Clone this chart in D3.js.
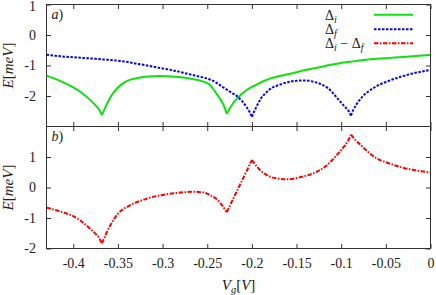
<!DOCTYPE html>
<html><head><meta charset="utf-8">
<script src="https://cdn.jsdelivr.net/npm/d3@7"></script>
<style>body{margin:0;background:#fff} svg{display:block} text{font-family:"Liberation Serif",serif}</style>
</head><body><svg id="c" width="436" height="295"></svg>
<script>
// ---- data ----
const vg = [-0.43,-0.42,-0.41,-0.40,-0.39,-0.38,-0.375,-0.371,-0.368,-0.365,
  -0.362,-0.358,-0.354,-0.35,-0.345,-0.34,-0.333,-0.325,-0.315,-0.305,
  -0.295,-0.285,-0.275,-0.265,-0.255,-0.25,-0.245,-0.24,-0.235,-0.232,
  -0.228,-0.225,-0.222,-0.218,-0.214,-0.21,-0.206,-0.203,-0.2,-0.197,
  -0.194,-0.19,-0.185,-0.18,-0.17,-0.16,-0.15,-0.14,-0.13,-0.12,
  -0.115,-0.11,-0.105,-0.1,-0.096,-0.092,-0.089,-0.086,-0.083,-0.079,
  -0.075,-0.07,-0.06,-0.05,-0.04,-0.03,-0.02,-0.01,0];
const deltaI = [-1.33,-1.44,-1.57,-1.72,-1.91,-2.16,-2.31,-2.45,-2.63,-2.43,
  -2.24,-2.02,-1.86,-1.72,-1.60,-1.51,-1.44,-1.39,-1.36,-1.345,
  -1.35,-1.37,-1.40,-1.45,-1.52,-1.58,-1.70,-1.91,-2.12,-2.28,
  -2.59,-2.42,-2.28,-2.13,-2.01,-1.90,-1.81,-1.75,-1.70,-1.66,
  -1.62,-1.55,-1.49,-1.43,-1.35,-1.29,-1.22,-1.15,-1.09,-1.03,
  -0.995,-0.965,-0.94,-0.915,-0.90,-0.885,-0.875,-0.865,-0.85,-0.835,
  -0.82,-0.80,-0.78,-0.76,-0.74,-0.72,-0.70,-0.675,-0.65];
const deltaF = [-0.65,-0.68,-0.71,-0.73,-0.75,-0.77,-0.78,-0.79,-0.80,-0.80,
  -0.81,-0.82,-0.83,-0.84,-0.86,-0.88,-0.92,-0.96,-1.01,-1.07,
  -1.12,-1.18,-1.25,-1.32,-1.39,-1.43,-1.48,-1.56,-1.66,-1.72,
  -1.79,-1.85,-1.91,-1.97,-2.08,-2.20,-2.36,-2.50,-2.68,-2.48,
  -2.30,-2.08,-1.92,-1.78,-1.64,-1.55,-1.50,-1.49,-1.54,-1.65,
  -1.74,-1.88,-2.05,-2.22,-2.35,-2.48,-2.64,-2.43,-2.28,-2.12,
  -1.98,-1.86,-1.67,-1.54,-1.43,-1.34,-1.26,-1.20,-1.14];
const deltaDiff = [-0.66,-0.74,-0.83,-0.94,-1.13,-1.38,-1.52,-1.66,-1.83,-1.64,
  -1.44,-1.21,-1.02,-0.86,-0.73,-0.64,-0.53,-0.44,-0.34,-0.27,
  -0.22,-0.18,-0.155,-0.14,-0.16,-0.20,-0.28,-0.37,-0.52,-0.64,
  -0.81,-0.62,-0.43,-0.19,0.05,0.29,0.53,0.72,0.90,0.78,
  0.67,0.55,0.44,0.36,0.29,0.27,0.31,0.38,0.48,0.64,
  0.76,0.90,1.06,1.23,1.37,1.55,1.73,1.62,1.52,1.42,
  1.30,1.17,0.95,0.83,0.73,0.64,0.58,0.53,0.49];
const cuspsI = [-0.368,-0.228];
const cuspsF = [-0.2,-0.089];
const cuspsDiff = [-0.368,-0.228,-0.2,-0.089];
const xTicks = [-0.4,-0.35,-0.3,-0.25,-0.2,-0.15,-0.1,-0.05,0];
const xTickLabels = ["-0.4","-0.35","-0.3","-0.25","-0.2","-0.15","-0.1","-0.05","0"];
const yTicks = [1,0,-1,-2];
const yTickLabels = ["1","0","-1","-2"];

// ---- layout ----
const svg = d3.select("#c");
const L=46.5, R=430.5, T1=4.5, B1=126.5, T2=126.5, B2=248.5;
const x = d3.scaleLinear().domain([-0.43,0]).range([L,R]);
const yA = d3.scaleLinear().domain([-3,1]).range([B1,T1]);
const yB = d3.scaleLinear().domain([-2,2]).range([B2,T2]);
const TK = 4.5, FONT = 14, AX="#333";

function clip(id, y0, y1){
  svg.append("clipPath").attr("id",id).append("rect")
    .attr("x",L).attr("y",y0).attr("width",R-L).attr("height",y1-y0);
}
clip("ca",T1,B1); clip("cb",T2,B2);

function styleAxis(g){
  g.select(".domain").remove();
  g.selectAll("line").attr("stroke",AX).attr("stroke-width",1);
  g.selectAll("text").attr("font-family","Liberation Serif, serif").attr("font-size",FONT).attr("fill","#222");
}
function panelAxes(y, top, bottom, showX){
  svg.append("g").attr("transform",`translate(0,${bottom})`)
    .call(d3.axisBottom(x).tickValues(xTicks).tickSize(-TK).tickPadding(10)
      .tickFormat(showX ? (d,i)=>xTickLabels[i] : ()=>""))
    .call(styleAxis);
  svg.append("g").attr("transform",`translate(0,${top})`)
    .call(d3.axisTop(x).tickValues(xTicks).tickSize(-TK).tickFormat(()=>""))
    .call(styleAxis);
  const gl = svg.append("g").attr("transform",`translate(${L},0)`)
    .call(d3.axisLeft(y).tickValues(yTicks).tickSize(-TK).tickPadding(10.5)
      .tickFormat((d,i)=>yTickLabels[i]))
    .call(styleAxis);
  // keep the top label inside the picture, as in the reference
  gl.selectAll(".tick text").filter(d=>Math.abs(y(d)-top)<1).attr("y",1.8);
  svg.append("g").attr("transform",`translate(${R},0)`)
    .call(d3.axisRight(y).tickValues(yTicks).tickSize(-TK).tickFormat(()=>""))
    .call(styleAxis);
  svg.append("rect").attr("x",L).attr("y",top).attr("width",R-L).attr("height",bottom-top)
    .attr("fill","none").attr("stroke",AX).attr("stroke-width",1);
}
panelAxes(yA,T1,B1,false);
panelAxes(yB,T2,B2,true);

// ---- series ----
function segments(vals, cusps){
  const pts = vg.map((v,i)=>[v,vals[i]]);
  const segs=[]; let cur=[];
  pts.forEach(p=>{
    cur.push(p);
    if (cusps.some(c=>Math.abs(c-p[0])<1e-9)){ segs.push(cur); cur=[p]; }
  });
  if(cur.length>1) segs.push(cur);
  return segs;
}
function drawSeries(vals, cusps, yS, clipId, color, dash, w){
  const line = d3.line().x(d=>x(d[0])).y(d=>yS(d[1])).curve(d3.curveMonotoneX);
  const g = svg.append("g").attr("clip-path",`url(#${clipId})`);
  const segs = segments(vals,cusps);
  g.selectAll("path").data(segs).join("path")
    .attr("d",line).attr("fill","none").attr("stroke",color)
    .attr("stroke-width",w).attr("stroke-dasharray",dash||null)
    .attr("stroke-linejoin","miter");
}
const GREEN="#10e010", BLUE="#0000ff", RED="#ff0000";
const DASH_F="2.5,1.5", DASH_D="4.5,1.5,1.5,1.5";
drawSeries(deltaI, cuspsI, yA, "ca", GREEN, null, 2);
drawSeries(deltaF, cuspsF, yA, "ca", BLUE, DASH_F, 2);
drawSeries(deltaDiff, cuspsDiff, yB, "cb", RED, DASH_D, 2);

// ---- legend ----
const lg = svg.append("g").attr("font-size",FONT).attr("fill","#222");
const lx0=374, lx1=413;
[[14.7,GREEN,null],[29.3,BLUE,DASH_F],[43.3,RED,DASH_D]].forEach(([yy,c,d])=>{
  lg.append("line").attr("x1",lx0).attr("x2",lx1).attr("y1",yy).attr("y2",yy)
    .attr("stroke",c).attr("stroke-width",2).attr("stroke-dasharray",d);
});
let t1 = lg.append("text").attr("x",325).attr("y",19.5);
t1.append("tspan").text("Δ");
t1.append("tspan").attr("font-style","italic").attr("font-size",10).attr("dy",3).text("i");
let t2 = lg.append("text").attr("x",325).attr("y",34);
t2.append("tspan").text("Δ");
t2.append("tspan").attr("font-style","italic").attr("font-size",10).attr("dy",3).text("f");
let t3 = lg.append("text").attr("x",325).attr("y",48).style("white-space","pre");
t3.append("tspan").text("Δ");
t3.append("tspan").attr("font-style","italic").attr("font-size",10).attr("dy",3).text("i");
t3.append("tspan").attr("dy",-3).text(" − Δ");
t3.append("tspan").attr("font-style","italic").attr("font-size",10).attr("dy",3).text("f");

// ---- titles ----
function eLabel(cy){
  const t = svg.append("text").attr("transform",`translate(12.5,${cy}) rotate(-90)`)
    .attr("text-anchor","middle").attr("font-size",15).attr("fill","#222");
  t.append("tspan").attr("font-style","italic").text("E");
  t.append("tspan").text("[");
  t.append("tspan").attr("font-style","italic").text("meV");
  t.append("tspan").text("]");
}
eLabel((T1+B1)/2);
eLabel((T2+B2)/2);
const xt = svg.append("text").attr("x",(L+R)/2).attr("y",289.5).attr("text-anchor","middle")
  .attr("font-size",15).attr("fill","#222");
xt.append("tspan").attr("font-style","italic").text("V");
xt.append("tspan").attr("font-style","italic").attr("font-size",10.5).attr("dy",3).text("g");
xt.append("tspan").attr("dy",-3).text("[");
xt.append("tspan").attr("font-style","italic").text("V");
xt.append("tspan").text("]");

function panelLabel(letter, yy){
  const t = svg.append("text").attr("x",51.5).attr("y",yy).attr("font-size",FONT).attr("fill","#222");
  t.append("tspan").attr("font-style","italic").text(letter);
  t.append("tspan").text(")");
}
panelLabel("a",18.5);
panelLabel("b",141);
</script></body></html>
